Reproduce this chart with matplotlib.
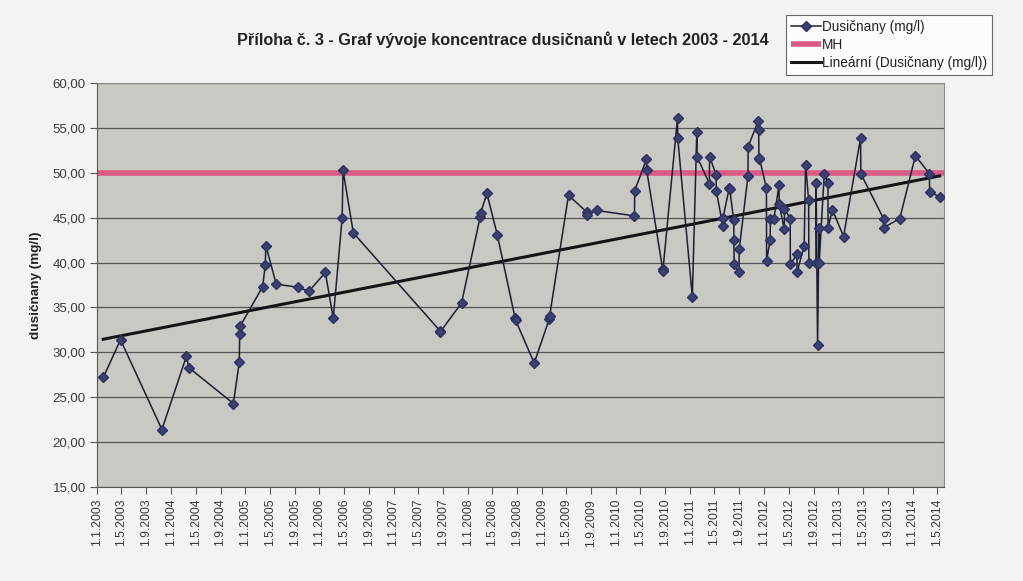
import matplotlib
matplotlib.use("Agg")
import matplotlib.pyplot as plt
import matplotlib.dates as mdates
from matplotlib.ticker import FuncFormatter, MultipleLocator
import numpy as np
import pandas as pd

plt.rcParams["font.family"] = ["Liberation Sans", "DejaVu Sans"]

title = "Příloha č. 3 - Graf vývoje koncentrace dusičnanů v letech 2003 - 2014"
ylabel = "dusičnany (mg/l)"
series_name = "Dusičnany (mg/l)"
mh_name = "MH"
trend_name = "Lineární (Dusičnany (mg/l))"
mh_value = 50.0

dates = [
    "2003-02-01", "2003-04-27", "2003-11-17",
    "2004-03-17", "2004-03-28", "2004-11-03", "2004-12-02", "2004-12-04", "2004-12-06",
    "2005-03-27", "2005-04-09", "2005-04-12", "2005-06-02", "2005-09-16", "2005-11-10",
    "2006-01-30", "2006-03-10", "2006-04-23", "2006-04-27", "2006-06-17",
    "2007-08-18", "2007-08-20", "2007-12-02",
    "2008-03-03", "2008-03-05", "2008-04-05", "2008-05-26", "2008-08-22", "2008-08-24", "2008-11-24",
    "2009-02-06", "2009-02-08", "2009-05-12", "2009-08-11", "2009-08-13", "2009-09-28",
    "2010-04-02", "2010-04-03", "2010-05-31", "2010-06-01", "2010-08-19", "2010-08-20",
    "2010-10-31", "2010-11-01",
    "2011-01-12", "2011-02-03", "2011-02-04", "2011-04-06", "2011-04-07", "2011-05-09",
    "2011-05-10", "2011-06-11", "2011-06-12", "2011-07-13", "2011-07-15", "2011-08-04",
    "2011-08-05", "2011-08-06", "2011-08-30", "2011-08-31", "2011-10-13", "2011-10-14",
    "2011-12-03", "2011-12-05", "2011-12-06", "2011-12-08",
    "2012-01-12", "2012-01-13", "2012-01-30", "2012-02-01", "2012-02-17", "2012-03-14",
    "2012-03-15", "2012-04-09", "2012-04-10", "2012-05-08", "2012-05-09", "2012-06-10",
    "2012-06-11", "2012-07-16", "2012-07-23", "2012-08-07", "2012-08-08", "2012-09-12",
    "2012-09-13", "2012-09-20", "2012-09-27", "2012-09-28", "2012-10-23", "2012-11-10",
    "2012-11-11", "2012-12-02",
    "2013-01-26", "2013-04-20", "2013-04-21", "2013-08-11", "2013-08-12", "2013-10-30",
    "2014-01-15", "2014-03-25", "2014-03-26", "2014-05-15",
]
values = [
    27.2, 31.4, 21.4,
    29.6, 28.3, 24.3, 28.9, 32.0, 32.9,
    37.3, 39.7, 41.9, 37.6, 37.25, 36.8,
    38.9, 33.8, 45.0, 50.3, 43.3,
    32.4, 32.3, 35.5,
    45.1, 45.5, 47.7, 43.1, 33.8, 33.6, 28.8,
    33.7, 34.05, 47.5, 45.6, 45.3, 45.8,
    45.2, 48.0, 51.5, 50.3, 39.25, 39.1,
    56.1, 53.9,
    36.2, 54.5, 51.8, 48.8, 51.8, 49.8,
    48.0, 44.1, 45.0, 48.3, 48.2, 44.7,
    42.5, 39.8, 38.9, 41.5, 49.6, 52.9,
    55.8, 54.8, 51.5, 51.7,
    48.3, 40.2, 42.5, 44.8, 44.8, 48.6,
    46.5, 43.7, 46.0, 44.9, 39.8, 40.9,
    38.9, 41.9, 50.9, 47.0, 40.0, 40.0,
    48.9, 30.8, 43.9, 40.0, 49.9, 48.9,
    43.9, 45.9,
    42.9, 53.9, 49.9, 44.9, 43.9, 44.9,
    51.9, 49.9, 47.9, 47.3,
]

x_start = "2003-01-01"
x_end = "2014-06-05"
tick_start = "2003-01-01"
tick_end = "2014-05-01"

dts = pd.to_datetime(dates)
xnum = mdates.date2num(dts)

fig = plt.figure(figsize=(10.23, 5.81), dpi=100, facecolor="#f3f3f1")
ax = fig.add_axes([0.0948, 0.1618, 0.828, 0.6953])
ax.set_facecolor("#c8c9c3")

ax.set_ylim(15, 60)
ax.yaxis.set_major_locator(MultipleLocator(5))
ax.yaxis.set_major_formatter(FuncFormatter(lambda v, p: f"{v:.2f}".replace(".", ",")))
ax.grid(axis="y", color="#565656", linewidth=0.9)
ax.set_axisbelow(True)

x0 = mdates.date2num(pd.Timestamp(x_start))
x1 = mdates.date2num(pd.Timestamp(x_end))
ax.set_xlim(x0, x1)
ticks = pd.date_range(tick_start, tick_end, freq="4MS")
ax.set_xticks(mdates.date2num(ticks))
ax.set_xticklabels([f"{t.day}.{t.month}.{t.year}" for t in ticks], rotation=90,
                   fontsize=8.7, color="#3a3a3a")

# MH limit
ax.plot([x0, x1], [mh_value, mh_value], color="#dc5a86", linewidth=4, label=mh_name,
        solid_capstyle="butt", zorder=2)

# data series
ax.plot(xnum, values, color="#1c1d33", linewidth=1.1, marker="D", markersize=5.5,
        markerfacecolor="#3b3f72", markeredgecolor="#2e3160", label=series_name, zorder=4)

# linear trend
coef = np.polyfit(xnum, values, 1)
tx = np.array([xnum.min(), xnum.max()])
ax.plot(tx, np.polyval(coef, tx), color="#141414", linewidth=2.2, label=trend_name, zorder=3)

for s in ["top", "right"]:
    ax.spines[s].set_color("#8a8a8a")
for s in ["left", "bottom"]:
    ax.spines[s].set_color("#555555")
ax.tick_params(axis="both", direction="out", length=5, color="#555555")
ax.tick_params(axis="y", labelsize=9.5, labelcolor="#3a3a3a", pad=3)

ax.set_ylabel(ylabel, fontsize=9.7, fontweight="bold", color="#222222", labelpad=8)

fig.text(0.4917, 0.931, title, ha="center", va="center", fontsize=11.7, fontweight="bold",
         color="#222222")

h, l = ax.get_legend_handles_labels()
order = [1, 0, 2]
leg = fig.legend([h[i] for i in order], [l[i] for i in order], loc="upper right",
                 bbox_to_anchor=(0.9697, 0.974), borderaxespad=0, frameon=True, fancybox=False,
                 edgecolor="#444444", facecolor="white", fontsize=9.8,
                 handlelength=2.2, handletextpad=0.1, borderpad=0.35, labelspacing=0.3)
leg.get_frame().set_linewidth(0.8)
for t in leg.get_texts():
    t.set_color("#222222")

fig.savefig("out.png", dpi=100, facecolor=fig.get_facecolor())
